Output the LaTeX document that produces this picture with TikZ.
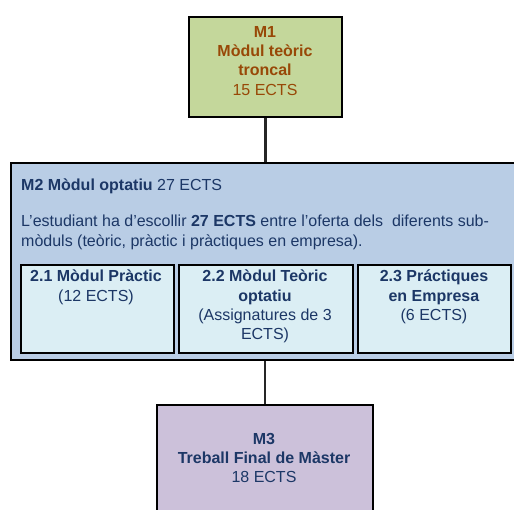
\documentclass[tikz,border=0pt]{standalone}
\usepackage{fontspec}
\setmainfont{Liberation Sans}
\usetikzlibrary{shadows}
\definecolor{mOneFill}{HTML}{C4D79B}
\definecolor{mOneText}{HTML}{984807}
\definecolor{mTwoFill}{HTML}{B9CDE5}
\definecolor{navy}{HTML}{1C3766}
\definecolor{subFill}{HTML}{DBEEF4}
\definecolor{mThreeFill}{HTML}{CCC1DA}
\tikzset{
  boxshape/.style={draw=black, line width=1.8pt, inner sep=0pt, anchor=north west,
    drop shadow={shadow xshift=1.2pt, shadow yshift=-1.2pt, fill=black!35, opacity=0.8}},
  txt/.style={inner sep=0pt, font=\fontsize{16}{19.3}\selectfont, align=center},
  conn/.style={draw=black!85, line width=2.2pt},
}
\begin{document}
\begin{tikzpicture}[x=1pt, y=-1pt]
\clip (0,0) rectangle (514,509);
% boxes
\node[boxshape, fill=mOneFill, minimum width=153pt, minimum height=100pt] (m1) at (188,16) {};
\node[boxshape, fill=mTwoFill, minimum width=510pt, minimum height=197pt] (m2) at (10,162) {};
\node[boxshape, fill=subFill, minimum width=153pt, minimum height=88pt] (s1) at (20,264) {};
\node[boxshape, fill=subFill, minimum width=174pt, minimum height=88pt] (s2) at (178,264) {};
\node[boxshape, fill=subFill, minimum width=153pt, minimum height=88pt] (s3) at (357,264) {};
\node[boxshape, fill=mThreeFill, minimum width=216pt, minimum height=120pt] (m3) at (156,404) {};
% connectors
\draw[conn] (m1.south) -- (m1.south |- m2.north);
\draw[conn] (m3.north |- m2.south) -- (m3.north);
% texts
\node[txt, text=mOneText, anchor=north] (t1) at (265,26)
  {\textbf{M1}\\\textbf{Mòdul teòric}\\\textbf{troncal}\\15 ECTS};
\node[txt, text=navy, anchor=west] (t2a) at (21,186)
  {\textbf{M2 Mòdul optatiu} 27 ECTS};
\node[txt, text=navy, anchor=north west, align=left] (t2b) at (21,215)
  {L’estudiant ha d’escollir \textbf{27 ECTS} entre l’oferta dels\ \ diferents sub-\\mòduls (teòric, pràctic i pràctiques en empresa).};
\node[txt, text=navy, anchor=north] (t21) at (96,270)
  {\textbf{2.1 Mòdul Pràctic}\\(12 ECTS)};
\node[txt, text=navy, anchor=north] (t22) at (265,270)
  {\textbf{2.2 Mòdul Teòric}\\\textbf{optatiu}\\(Assignatures de 3\\ECTS)};
\node[txt, text=navy, anchor=north] (t23) at (434,270)
  {\textbf{2.3 Práctiques}\\\textbf{en Empresa}\\(6 ECTS)};
\node[txt, text=navy, anchor=north] (t3) at (264,433)
  {\textbf{M3}\\\textbf{Treball Final de Màster}\\18 ECTS};
\end{tikzpicture}
\end{document}
